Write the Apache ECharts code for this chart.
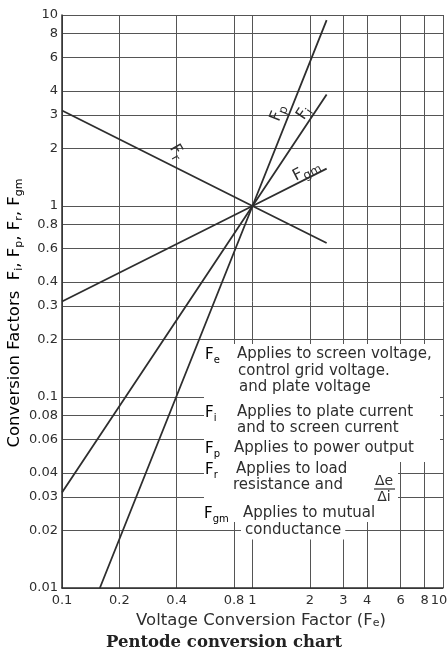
<!DOCTYPE html>
<html>
<head>
<meta charset="utf-8">
<script src="https://cdn.jsdelivr.net/npm/echarts@6/dist/echarts.min.js"></script>
<style>
  html, body { margin: 0; padding: 0; background: #fff; }
  #chart { width: 447px; height: 660px; }
</style>
</head>
<body>
<div id="chart"></div>
<script>
// Grid ticks of the log-log chart
const xTicks = [0.1, 0.2, 0.4, 0.8, 1, 2, 3, 4, 6, 8, 10];
const xTickLabels = ['0.1', '0.2', '0.4', '0.8', '1', '2', '3', '4', '6', '8', '10'];
const yTicks = [0.01, 0.02, 0.03, 0.04, 0.06, 0.08, 0.1, 0.2, 0.3, 0.4, 0.6, 0.8, 1, 2, 3, 4, 6, 8, 10];
const yTickLabels = ['0.01', '0.02', '0.03', '0.04', '0.06', '0.08', '0.1', '0.2', '0.3', '0.4', '0.6', '0.8', '1', '2', '3', '4', '6', '8', '10'];

// Conversion factor lines: Fe on x, factor on y
const fiX = [0.1, 1, 2.45];
const fiY = [0.0316, 1, 3.83];
const fpX = [0.158, 1, 2.45];
const fpY = [0.01, 1, 9.4];
const frX = [0.1, 1, 2.45];
const frY = [3.16, 1, 0.64];
const fgmX = [0.1, 1, 2.45];
const fgmY = [0.316, 1, 1.57];

// Where each line's name sits (data coordinates)
const fiLabelAt = [1.86, 3.07];
const fpLabelAt = [1.36, 3.07];
const frLabelAt = [0.40, 1.92];
const fgmLabelAt = [1.92, 1.53];

const INK = '#2e2e2e';
const GRID = '#555';
const SANS = '"DejaVu Sans", sans-serif';

function pairs(xs, ys) { return xs.map((x, i) => [x, ys[i]]); }

function tickText(ticks, labels) {
  return function (v) {
    for (let i = 0; i < ticks.length; i++) {
      if (Math.abs(Math.log10(v) - Math.log10(ticks[i])) < 1e-6) {
        // the last label is nudged inward so it stays on the page
        return i === ticks.length - 1 ? '{r|' + labels[i] + '}' : labels[i];
      }
    }
    return '';
  };
}

const subRich = {
  f: { fontFamily: SANS, fontSize: 15, lineHeight: 20, color: INK },
  s: { fontFamily: SANS, fontSize: 10, lineHeight: 10, verticalAlign: 'bottom', color: INK }
};
const lineNameRich = {
  f: { fontFamily: SANS, fontSize: 16, lineHeight: 21, color: INK },
  s: { fontFamily: SANS, fontSize: 12, lineHeight: 11, verticalAlign: 'bottom', color: INK }
};

function lineSeries(name, xs, ys, labelAt, sub, rotate) {
  return {
    name: name,
    type: 'line',
    data: pairs(xs, ys),
    symbol: 'none',
    silent: true,
    lineStyle: { color: INK, width: 1.8 },
    markPoint: {
      symbol: 'circle',
      symbolSize: 0,
      silent: true,
      data: [{
        coord: labelAt,
        label: {
          show: true,
          position: 'inside',
          rotate: rotate,
          formatter: '{f|F}{s|' + sub + '}',
          rich: lineNameRich
        }
      }]
    }
  };
}

const chart = echarts.init(document.getElementById('chart'), null, { renderer: 'canvas' });

// Notes block beside the lines
function note(x, y, text, bg) {
  return {
    type: 'text', x: x, y: y, z: 50,
    style: {
      text: text, fill: INK, font: '15px ' + SANS,
      verticalAlign: 'middle',
      backgroundColor: bg ? '#fff' : null, padding: [2, 4]
    }
  };
}
function subNote(x, y, sub) {
  return {
    type: 'text', x: x, y: y, z: 50,
    style: { text: '{f|F}{s|' + sub + '}', verticalAlign: 'middle', rich: subRich }
  };
}

const notes = [
  // paper left clear behind the lettering
  { type: 'rect', z: 40, shape: { x: 204, y: 344, width: 236, height: 118 }, style: { fill: '#fff' } },
  { type: 'rect', z: 40, shape: { x: 204, y: 462, width: 194, height: 60 }, style: { fill: '#fff' } },
  subNote(205, 355, 'e'), note(233, 354, 'Applies to screen voltage,'),
  note(234, 371, 'control grid voltage.'),
  note(235, 387, 'and plate voltage'),
  subNote(205, 413, 'i'), note(233, 412, 'Applies to plate current'),
  note(233, 428, 'and to screen current'),
  subNote(205, 449, 'p'), note(230, 448, 'Applies to power output'),
  subNote(205, 470, 'r'), note(232, 469, 'Applies to load'),
  note(229, 485, 'resistance and'),
  { type: 'text', x: 384, y: 481, z: 51, style: { text: 'Δe', fill: INK, font: '14px ' + SANS, align: 'center', verticalAlign: 'middle' } },
  { type: 'line', z: 51, shape: { x1: 374, y1: 489, x2: 395, y2: 489 }, style: { stroke: INK, lineWidth: 1.2 } },
  { type: 'text', x: 384, y: 497, z: 51, style: { text: 'Δi', fill: INK, font: '14px ' + SANS, align: 'center', verticalAlign: 'middle' } },
  subNote(204, 514, 'gm'), note(239, 513, 'Applies to mutual'),
  note(241, 530, 'conductance', true)
];

const option = {
  backgroundColor: '#fff',
  animation: false,
  grid: { left: 62, right: 4, top: 15, bottom: 72, outerBoundsMode: 'none', containLabel: false },
  xAxis: {
    type: 'log', logBase: 10, min: 0.1, max: 10,
    name: 'Voltage Conversion Factor (F{s|e})',
    nameLocation: 'middle', nameGap: 18,
    nameTextStyle: {
      fontFamily: SANS, fontSize: 16.5, color: INK, verticalAlign: 'top',
      padding: [0, 0, 0, 17],
      rich: { s: { fontFamily: SANS, fontSize: 11, lineHeight: 8, verticalAlign: 'bottom', color: INK } }
    },
    axisLine: { show: true, lineStyle: { color: INK, width: 1.5 } },
    axisTick: { show: false, customValues: xTicks },
    axisLabel: {
      customValues: xTicks, formatter: tickText(xTicks, xTickLabels),
      fontFamily: SANS, fontSize: 13, color: INK, margin: 6,
      rich: { r: { fontFamily: SANS, fontSize: 13, color: INK, padding: [0, 8, 0, 0] } }
    },
    splitLine: { show: true, lineStyle: { color: GRID, width: 1 } }
  },
  yAxis: {
    type: 'log', logBase: 10, min: 0.01, max: 10,
    axisLine: { show: true, lineStyle: { color: INK, width: 1.5 } },
    axisTick: { show: false, customValues: yTicks },
    axisLabel: {
      customValues: yTicks, formatter: tickText(yTicks, yTickLabels),
      fontFamily: SANS, fontSize: 13, color: INK, margin: 4,
      rich: { r: { fontFamily: SANS, fontSize: 13, color: INK } }
    },
    splitLine: { show: true, lineStyle: { color: GRID, width: 1 } }
  },
  graphic: [
    {
      type: 'text', x: 15, y: 313, rotation: Math.PI / 2,
      style: {
        text: '{f|Conversion Factors  F}{s|i}{f|, F}{s|p}{f|, F}{s|r}{f|, F}{s|gm}',
        align: 'center', verticalAlign: 'middle',
        rich: {
          f: { fontFamily: SANS, fontSize: 16.5, lineHeight: 20, color: INK },
          s: { fontFamily: SANS, fontSize: 11, lineHeight: 10, verticalAlign: 'bottom', color: INK }
        }
      }
    },
    {
      type: 'text', x: 224, y: 643,
      style: {
        text: 'Pentode conversion chart', fill: '#222',
        font: 'bold 16.5px "DejaVu Serif", serif',
        align: 'center', verticalAlign: 'middle'
      }
    }
  ].concat(notes),
  series: [
    lineSeries('Fi', fiX, fiY, fiLabelAt, 'i', 56),
    lineSeries('Fp', fpX, fpY, fpLabelAt, 'p', 68),
    lineSeries('Fr', frX, frY, frLabelAt, 'r', -60),
    lineSeries('Fgm', fgmX, fgmY, fgmLabelAt, 'gm', 27)
  ]
};

chart.setOption(option);
</script>
</body>
</html>
